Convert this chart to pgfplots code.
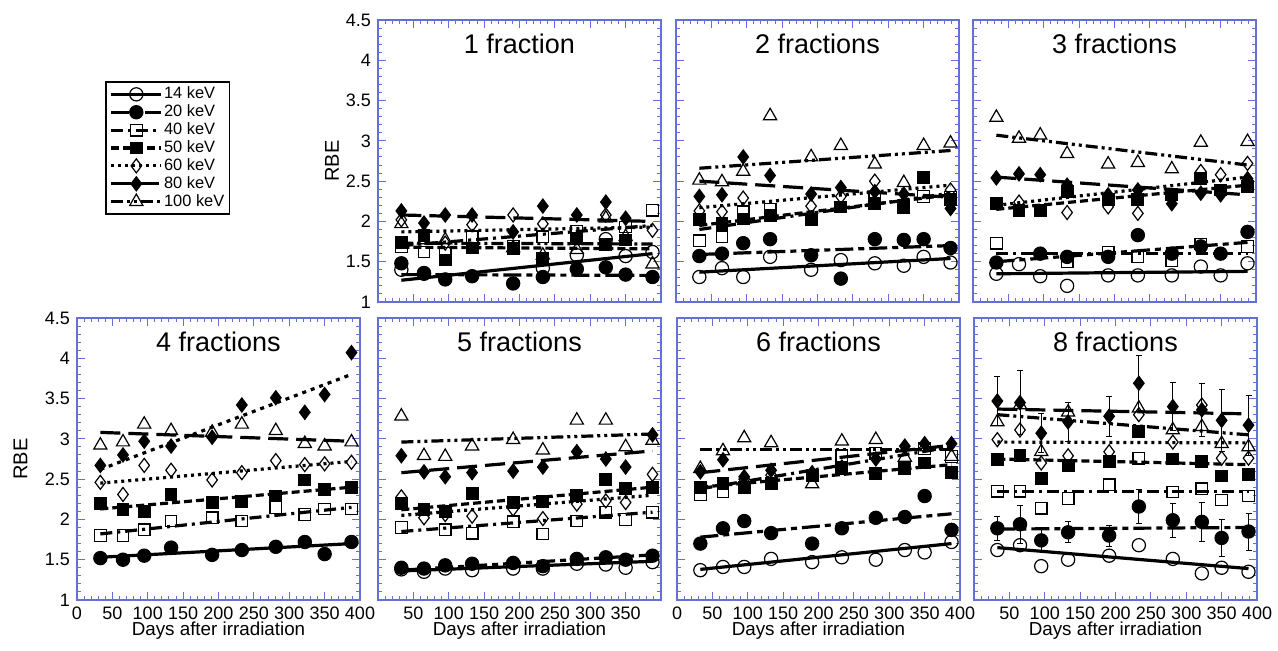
\documentclass[border=0pt]{standalone}
\usepackage{pgfplots}
\pgfplotsset{compat=1.18}
\usepackage{pgfplotstable}
\usepackage{fontspec}
\setmainfont{Liberation Sans}
\definecolor{frameblue}{RGB}{100,112,215}

\pgfplotstableread{
day s14 s20 s40 s50 s60 s80 s100
33 1.40 1.48 1.69 1.74 2.02 2.13 1.97
65 1.36 1.35 1.62 1.83 1.85 1.98 1.77
95 nan 1.28 1.60 1.52 1.73 2.08 1.77
133 nan 1.32 1.81 1.67 1.96 2.08 nan
191 nan 1.23 1.69 1.66 2.08 1.87 1.67
233 1.42 1.31 1.81 1.54 1.97 2.19 1.58
281 1.58 1.41 1.88 1.79 nan 2.08 1.65
322 1.78 1.43 nan 1.71 2.08 2.24 2.04
350 1.57 1.34 1.93 1.77 nan 2.04 1.81
388 1.62 1.31 2.14 nan 1.89 nan 1.47
}\tA
\pgfplotstableread{
day s14 s20 s40 s50 s60 s80 s100
33 1.31 1.57 1.76 2.02 2.13 2.31 2.51
65 1.42 1.60 1.81 1.97 2.12 2.33 2.49
95 1.31 1.73 2.12 2.03 2.29 2.80 2.62
133 1.56 1.78 2.15 2.07 nan 2.57 3.31
191 1.40 1.58 nan 2.02 2.19 2.34 2.80
233 1.52 1.29 nan 2.18 2.31 2.42 2.94
281 1.48 1.78 2.30 2.22 2.50 2.37 2.71
322 1.45 1.77 nan 2.17 nan 2.34 2.48
350 1.56 1.78 2.31 2.55 nan nan 2.94
388 1.49 1.67 2.30 2.27 2.39 2.16 2.97
}\tB
\pgfplotstableread{
day s14 s20 s40 s50 s60 s80 s100
33 1.35 1.49 1.73 2.22 nan 2.54 3.29
65 1.47 nan nan 2.14 2.24 2.59 3.03
95 1.32 1.60 nan 2.14 nan 2.58 3.07
133 1.20 1.56 1.50 2.37 2.11 2.45 2.84
191 1.33 1.56 1.62 2.27 2.18 2.33 2.71
233 1.33 1.83 1.56 2.27 2.10 2.39 2.73
281 1.33 1.60 1.51 2.33 nan 2.22 2.65
322 1.44 1.69 1.72 2.53 2.62 2.35 2.98
350 1.33 1.60 nan 2.39 2.58 2.33 nan
388 1.48 1.87 1.69 2.43 2.72 2.53 2.99
}\tC
\pgfplotstableread{
day s14 s20 s40 s50 s60 s80 s100
33 nan 1.52 1.80 2.20 2.46 2.67 2.92
65 nan 1.50 1.80 2.12 2.31 2.80 2.96
95 nan 1.55 1.87 2.10 2.67 2.97 3.18
133 nan 1.65 1.98 2.31 2.61 2.91 3.10
191 nan 1.56 2.02 2.21 2.49 3.02 3.08
233 nan 1.62 1.98 2.22 2.58 3.42 3.18
281 nan 1.66 2.15 2.29 2.73 3.51 3.10
322 nan 1.72 2.06 2.49 2.68 3.33 2.94
350 nan 1.57 2.13 2.37 2.69 3.55 2.91
388 nan 1.72 2.13 2.40 2.71 4.07 2.96
}\tD
\pgfplotstableread{
day s14 s20 s40 s50 s60 s80 s100
33 1.38 1.40 1.90 2.20 2.28 2.79 3.28
65 1.35 1.39 nan 2.12 2.02 2.59 2.79
95 1.39 1.43 1.87 2.10 2.06 2.53 2.78
133 1.37 1.45 1.83 2.32 2.04 2.58 2.91
191 1.39 1.46 1.97 2.21 2.13 2.60 2.99
233 1.39 1.42 1.82 2.22 2.01 2.65 2.86
281 1.45 1.51 1.98 2.30 2.19 2.84 3.23
322 1.44 1.53 2.09 2.50 2.23 2.75 3.23
350 1.40 1.50 2.00 2.38 2.21 2.65 2.90
388 1.47 1.55 2.09 2.40 2.56 3.05 2.98
}\tE
\pgfplotstableread{
day s14 s20 s40 s50 s60 s80 s100
33 1.37 1.70 2.31 2.40 nan 2.59 2.63
65 1.41 1.89 2.34 2.45 nan 2.74 2.85
95 1.41 1.98 nan 2.40 2.50 2.53 3.01
133 1.51 1.83 nan 2.45 2.55 2.61 2.95
191 1.47 1.70 nan 2.55 nan 2.58 2.44
233 1.53 1.89 2.79 2.63 nan 2.65 2.97
281 1.50 2.02 2.82 2.57 nan 2.75 2.99
322 1.62 2.03 nan 2.63 nan 2.91 2.77
350 1.59 2.29 2.88 2.70 nan 2.94 2.90
388 1.72 1.87 2.78 2.58 nan 2.94 2.78
}\tF
\pgfplotstableread{
day s14 s20 e20 s40 s50 s60 s80 e80 s100
33 1.62 1.89 0.15 2.35 2.74 2.99 3.47 0.30 3.21
65 1.68 1.94 0.24 2.35 2.79 3.11 3.45 0.40 3.42
95 1.42 1.74 0.14 2.14 2.51 2.70 3.07 0.24 2.84
133 1.50 1.84 0.13 2.26 2.67 2.79 3.21 0.24 3.33
191 1.55 1.80 0.13 2.43 2.72 2.84 3.28 0.25 nan
233 1.68 2.16 0.21 2.76 3.09 3.30 3.69 0.35 3.38
281 1.51 1.99 0.21 2.34 2.75 2.96 3.40 0.30 3.11
322 1.33 1.97 0.24 2.38 2.72 3.42 3.36 0.33 3.15
350 1.40 1.77 0.23 2.24 2.54 2.76 3.23 0.38 2.94
388 1.35 1.85 0.23 2.29 2.56 2.76 3.17 0.37 2.90
}\tG

\pgfplotsset{
  m14/.style={mark=o, mark size=3.3pt, mark options={solid, fill=white, draw=black, line width=0.6pt}},
  m20/.style={mark=*, mark size=3.3pt, mark options={solid, fill=black, draw=black, line width=0.6pt}},
  m40/.style={mark=square, mark size=2.9pt, mark options={solid, fill=white, draw=black, line width=0.6pt}},
  m50/.style={mark=square*, mark size=2.9pt, mark options={solid, fill=black, draw=black, line width=0.6pt}},
  m60/.style={mark=diamond, mark size=3.5pt, mark options={solid, fill=white, draw=black, line width=0.6pt}},
  m80/.style={mark=diamond*, mark size=3.5pt, mark options={solid, fill=black, draw=black, line width=0.6pt}},
  m100/.style={mark=triangle, mark size=3.8pt, mark options={solid, fill=white, draw=black, line width=0.6pt}},
  fit/.style={black, line width=1.6pt, mark=none},
  l14/.style={fit, solid},
  l20/.style={fit, dash pattern=on 9pt off 2.5pt on 3pt off 2.5pt},
  l40/.style={fit, dash pattern=on 6pt off 2.5pt on 1.5pt off 2.5pt},
  l50/.style={fit, dash pattern=on 4pt off 2pt},
  l60/.style={fit, dash pattern=on 1.5pt off 2pt},
  l80/.style={fit, dash pattern=on 10pt off 4pt},
  l100/.style={fit, dash pattern=on 6pt off 2pt on 1.5pt off 2pt on 1.5pt off 2pt},
  panel/.style={
    scale only axis, width=141.5pt, height=141pt, anchor=south west,
    xmin=0, xmax=400, ymin=1, ymax=4.5,
    xtick={0,50,...,400}, ytick={1,1.5,2,2.5,3,3.5,4,4.5},
    minor xtick={0,10,...,400},
    minor ytick={1.1,1.2,1.3,1.4,1.6,1.7,1.8,1.9,2.1,2.2,2.3,2.4,2.6,2.7,2.8,2.9,3.1,3.2,3.3,3.4,3.6,3.7,3.8,3.9,4.1,4.2,4.3,4.4},
    tick align=inside, major tick length=4pt, minor tick length=2pt,
    axis line style={draw=frameblue, line width=0.6pt},
    tick style={draw=frameblue, line width=0.5pt},
    tick label style={font=\fontsize{9}{10}\selectfont},
    /pgf/number format/assume math mode=true,
    xlabel style={font=\fontsize{9.4}{11}\selectfont, at={(axis description cs:0.5,-0.108)}, anchor=center},
    ylabel style={font=\fontsize{10}{12}\selectfont, anchor=center},
  },
  noxl/.style={xticklabels={}},
  noyl/.style={yticklabels={}},
}
\newcommand\ptitle[1]{\node[font=\fontsize{13.5}{15}\selectfont] at (axis description cs:0.5,0.915) {#1};}
\newcommand\pmarks[1]{%
  \addplot[only marks, m14] table[x=day,y=s14]{#1};
  \addplot[only marks, m20] table[x=day,y=s20]{#1};
  \addplot[only marks, m40] table[x=day,y=s40]{#1};
  \addplot[only marks, m50] table[x=day,y=s50]{#1};
  \addplot[only marks, m60] table[x=day,y=s60]{#1};
  \addplot[only marks, m80] table[x=day,y=s80]{#1};
  \addplot[only marks, m100] table[x=day,y=s100]{#1};
}

\begin{document}
\begin{tikzpicture}
\useasboundingbox (0pt,0pt) rectangle (639pt,325.5pt);

% ---------- 1 fraction ----------
\begin{axis}[panel, noxl, at={(189pt,174.5pt)}, ylabel={RBE},
  ylabel style={at={(axis description cs:-0.163,0.5)}},
  legend style={at={(-0.965,0.784)}, anchor=north west, draw=black, line width=0.8pt,
    font=\fontsize{8.2}{8.2}\selectfont, inner sep=2pt, row sep=0.3pt,
    nodes={inner sep=0.6pt}, cells={anchor=west}},
  legend image code/.code={\draw[mark repeat=2, mark phase=2, #1] plot coordinates {(0pt,0pt) (12.5pt,0pt) (25pt,0pt)};},
]
\addlegendimage{l14, m14}\addlegendentry{14 keV}
\addlegendimage{l20, m20}\addlegendentry{20 keV}
\addlegendimage{l40, m40}\addlegendentry{40 keV}
\addlegendimage{l50, m50}\addlegendentry{50 keV}
\addlegendimage{l60, m60}\addlegendentry{60 keV}
\addlegendimage{l80, m80}\addlegendentry{80 keV}
\addlegendimage{l100, m100}\addlegendentry{100 keV}
\addplot[l14] coordinates {(33,1.27) (388,1.60)};
\addplot[l20] coordinates {(33,1.34) (388,1.33)};
\addplot[l40] coordinates {(33,1.70) (388,1.95)};
\addplot[l50] coordinates {(33,1.68) (388,1.66)};
\addplot[l60] coordinates {(33,1.87) (388,1.93)};
\addplot[l80] coordinates {(33,2.08) (388,2.00)};
\addplot[l100] coordinates {(33,1.73) (388,1.72)};
\pmarks{\tA}
\ptitle{1 fraction}
\end{axis}

% ---------- 2 fractions ----------
\begin{axis}[panel, noxl, noyl, at={(338pt,174.5pt)}]
\addplot[l14] coordinates {(33,1.37) (388,1.54)};
\addplot[l20] coordinates {(33,1.59) (388,1.70)};
\addplot[l40] coordinates {(33,1.90) (388,2.35)};
\addplot[l50] coordinates {(33,1.95) (388,2.33)};
\addplot[l60] coordinates {(33,2.17) (388,2.45)};
\addplot[l80] coordinates {(33,2.50) (388,2.30)};
\addplot[l100] coordinates {(33,2.66) (388,2.88)};
\pmarks{\tB}
\ptitle{2 fractions}
\end{axis}

% ---------- 3 fractions ----------
\begin{axis}[panel, noxl, noyl, at={(486.5pt,174.5pt)}]
\addplot[l14] coordinates {(33,1.35) (388,1.38)};
\addplot[l20] coordinates {(33,1.50) (388,1.74)};
\addplot[l40] coordinates {(33,1.60) (388,1.60)};
\addplot[l50] coordinates {(33,2.15) (388,2.45)};
\addplot[l60] coordinates {(33,2.20) (388,2.55)};
\addplot[l80] coordinates {(33,2.55) (388,2.33)};
\addplot[l100] coordinates {(33,3.07) (388,2.70)};
\pmarks{\tC}
\ptitle{3 fractions}
\end{axis}

% ---------- 4 fractions ----------
\begin{axis}[panel, at={(38.5pt,25.5pt)}, ylabel={RBE}, xlabel={Days after irradiation},
  ylabel style={at={(axis description cs:-0.20,0.5)}}]
\addplot[l14] coordinates {(33,1.53) (388,1.70)};
\addplot[l40] coordinates {(33,1.82) (388,2.15)};
\addplot[l50] coordinates {(33,2.13) (388,2.40)};
\addplot[l60] coordinates {(33,2.45) (388,2.72)};
\addplot[fit, dash pattern=on 2pt off 2.5pt] coordinates {(33,2.62) (388,3.80)};
\addplot[l80] coordinates {(33,3.08) (388,2.97)};
\pmarks{\tD}
\ptitle{4 fractions}
\end{axis}

% ---------- 5 fractions ----------
\begin{axis}[panel, noyl, at={(189pt,25.5pt)}, xtick={50,100,...,350}, xlabel={Days after irradiation}]
\addplot[l14] coordinates {(33,1.36) (388,1.48)};
\addplot[l20] coordinates {(33,1.37) (388,1.56)};
\addplot[l40] coordinates {(33,1.85) (388,2.09)};
\addplot[l50] coordinates {(33,2.12) (388,2.40)};
\addplot[l60] coordinates {(33,2.05) (388,2.30)};
\addplot[l80] coordinates {(33,2.58) (388,2.85)};
\addplot[l100] coordinates {(33,2.96) (388,3.06)};
\pmarks{\tE}
\ptitle{5 fractions}
\end{axis}

% ---------- 6 fractions ----------
\begin{axis}[panel, noyl, at={(338.5pt,25.5pt)}, xlabel={Days after irradiation}]
\addplot[l14] coordinates {(33,1.38) (388,1.70)};
\addplot[l20] coordinates {(33,1.78) (388,2.07)};
\addplot[l40] coordinates {(33,2.38) (388,2.90)};
\addplot[l50] coordinates {(33,2.40) (388,2.68)};
\addplot[l80] coordinates {(33,2.58) (388,2.92)};
\addplot[l100] coordinates {(33,2.87) (388,2.87)};
\pmarks{\tF}
\ptitle{6 fractions}
\end{axis}

% ---------- 8 fractions ----------
\begin{axis}[panel, noyl, at={(487pt,25.5pt)}, xtick={50,100,...,400}, xlabel={Days after irradiation}]
\addplot[l14] coordinates {(33,1.65) (388,1.39)};
\addplot[l20] coordinates {(33,1.88) (388,1.90)};
\addplot[l40] coordinates {(33,2.35) (388,2.35)};
\addplot[l50] coordinates {(33,2.75) (388,2.68)};
\addplot[l60] coordinates {(33,2.96) (388,2.95)};
\addplot[l80] coordinates {(33,3.37) (388,3.31)};
\addplot[l100] coordinates {(33,3.30) (388,3.05)};
\addplot[only marks, m14] table[x=day,y=s14]{\tG};
\addplot[only marks, m20, error bars/.cd, y dir=both, y explicit,
  error bar style={black, solid, line width=0.4pt},
  error mark options={rotate=90, mark size=1.5pt, black, line width=0.4pt}]
  table[x=day,y=s20,y error=e20]{\tG};
\addplot[only marks, m40] table[x=day,y=s40]{\tG};
\addplot[only marks, m50] table[x=day,y=s50]{\tG};
\addplot[only marks, m60] table[x=day,y=s60]{\tG};
\addplot[only marks, m80, error bars/.cd, y dir=both, y explicit,
  error bar style={black, solid, line width=0.4pt},
  error mark options={rotate=90, mark size=1.5pt, black, line width=0.4pt}]
  table[x=day,y=s80,y error=e80]{\tG};
\addplot[only marks, m100] table[x=day,y=s100]{\tG};
\ptitle{8 fractions}
\end{axis}
\end{tikzpicture}
\end{document}
